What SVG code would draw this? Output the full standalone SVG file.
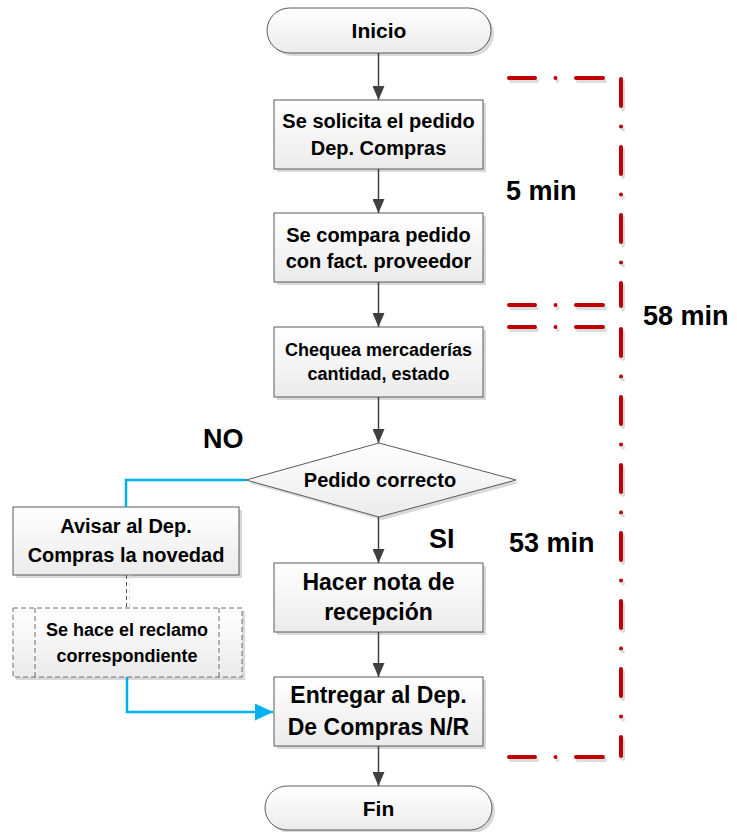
<svg xmlns="http://www.w3.org/2000/svg" width="737" height="832" viewBox="0 0 737 832">
<defs>
<linearGradient id="g" x1="0" y1="0" x2="0" y2="1">
<stop offset="0" stop-color="#ffffff"/>
<stop offset="1" stop-color="#ebebeb"/>
</linearGradient>
<marker id="ah" viewBox="0 0 14 12" refX="14" refY="6" markerWidth="14" markerHeight="12" markerUnits="userSpaceOnUse" orient="auto">
<path d="M0,0 L14,6 L0,12 Z" fill="#404040"/>
</marker>
<marker id="bh" viewBox="0 0 18 17" refX="18" refY="8.5" markerWidth="18" markerHeight="17" markerUnits="userSpaceOnUse" orient="auto">
<path d="M0,0 L18,8.5 L0,17 Z" fill="#00b0f0"/>
</marker>
</defs>
<style>
.sh{fill:#d9d9d9}
.bx{fill:url(#g);stroke:#5a5a5a;stroke-width:1}
.ds{fill:url(#g);stroke:#6e6e6e;stroke-width:1;stroke-dasharray:5 3}
.t{font-family:"Liberation Sans",Arial,sans-serif;font-weight:bold;fill:#000;text-anchor:middle}
.lb{font-family:"Liberation Sans",Arial,sans-serif;font-weight:bold;fill:#000;font-size:27px}
.ar{fill:none;stroke:#404040;stroke-width:1.5;marker-end:url(#ah)}
.bl{fill:none;stroke:#00b0f0;stroke-width:2.5}
.rd{fill:none;stroke:#c00000;stroke-width:4;stroke-linecap:round;stroke-dasharray:27 20.5 0 20.5}
.rs{fill:none;stroke:#dcdcdc;stroke-width:4;stroke-linecap:round;stroke-dasharray:27 20.5 0 20.5}
</style>

<g id="inicio">
<rect class="sh" x="270" y="11" width="224" height="45" rx="22.5"/>
<rect class="bx" x="267" y="8" width="224" height="45" rx="22.5"/>
<text class="t" x="379" y="38" font-size="21">Inicio</text>
</g>

<g id="solicita">
<rect class="sh" x="277" y="103" width="209" height="69"/>
<rect class="bx" x="274" y="100" width="209" height="69"/>
<text class="t" x="378.5" y="128" font-size="20">Se solicita el pedido</text>
<text class="t" x="378.5" y="155" font-size="20">Dep. Compras</text>
</g>

<g id="compara">
<rect class="sh" x="277" y="216" width="209" height="69"/>
<rect class="bx" x="274" y="213" width="209" height="69"/>
<text class="t" x="378.5" y="242" font-size="20">Se compara pedido</text>
<text class="t" x="378.5" y="268" font-size="20">con fact. proveedor</text>
</g>

<g id="chequea">
<rect class="sh" x="277" y="330" width="209" height="70"/>
<rect class="bx" x="274" y="327" width="209" height="70"/>
<text class="t" x="378.5" y="356" font-size="18">Chequea mercaderías</text>
<text class="t" x="378.5" y="380" font-size="18">cantidad, estado</text>
</g>

<g id="decision">
<polygon class="sh" points="249,483 382,446 519,483 382,520"/>
<polygon class="bx" points="246,480 379,443 516,480 379,517"/>
<text class="t" x="380" y="487" font-size="20">Pedido correcto</text>
</g>

<g id="avisar">
<rect class="sh" x="16" y="510" width="226" height="68"/>
<rect class="bx" x="13" y="507" width="226" height="68"/>
<text class="t" x="126" y="533" font-size="20">Avisar al Dep.</text>
<text class="t" x="126" y="562" font-size="20">Compras la novedad</text>
</g>

<g id="reclamo">
<rect class="sh" x="16" y="611" width="229" height="69"/>
<rect class="ds" x="13" y="608" width="229" height="69"/>
<line x1="35" y1="608" x2="35" y2="677" stroke="#6e6e6e" stroke-dasharray="5 3"/>
<line x1="219" y1="608" x2="219" y2="677" stroke="#6e6e6e" stroke-dasharray="5 3"/>
<text class="t" x="127" y="636" font-size="18">Se hace el reclamo</text>
<text class="t" x="127" y="662" font-size="18">correspondiente</text>
</g>

<g id="hacer">
<rect class="sh" x="277" y="566" width="209" height="69"/>
<rect class="bx" x="274" y="563" width="209" height="69"/>
<text class="t" x="378.5" y="590" font-size="23">Hacer nota de</text>
<text class="t" x="378.5" y="620" font-size="23">recepción</text>
</g>

<g id="entregar">
<rect class="sh" x="277" y="680" width="209" height="69"/>
<rect class="bx" x="274" y="677" width="209" height="69"/>
<text class="t" x="378.5" y="703" font-size="23">Entregar al Dep.</text>
<text class="t" x="378.5" y="735" font-size="23">De Compras N/R</text>
</g>

<g id="fin">
<rect class="sh" x="268" y="789" width="227" height="44" rx="22"/>
<rect class="bx" x="265" y="786" width="227" height="44" rx="22"/>
<text class="t" x="378.5" y="816" font-size="21">Fin</text>
</g>

<g id="connectors">
<path class="ar" d="M378.5,53 V100"/>
<path class="ar" d="M378.5,169 V213"/>
<path class="ar" d="M378.5,282 V327"/>
<path class="ar" d="M378.5,397 V443"/>
<path class="ar" d="M378.5,517 V563"/>
<path class="ar" d="M378.5,632 V677"/>
<path class="ar" d="M378.5,746 V786"/>
<path class="bl" d="M246,480 H126 V507"/>
<path d="M129.5,575 V608" stroke="#e0e0e0" stroke-width="1" stroke-dasharray="4 3"/>
<path d="M126.5,575 V608" stroke="#555" stroke-width="1" stroke-dasharray="4 3"/>
<path class="bl" d="M127,677 V712 H273" marker-end="url(#bh)"/>
</g>

<g id="time-brackets">
<g transform="translate(2,3)">
<path class="rs" d="M603,78 H509"/>
<path class="rs" d="M603,305 H509"/>
<path class="rs" d="M603,327 H509"/>
<path class="rs" d="M603,757 H509"/>
<path class="rs" d="M621,79 V306"/>
<path class="rs" d="M621,329 V756"/>
</g>
<path class="rd" d="M603,78 H509"/>
<path class="rd" d="M603,305 H509"/>
<path class="rd" d="M603,327 H509"/>
<path class="rd" d="M603,757 H509"/>
<path class="rd" d="M621,79 V306"/>
<path class="rd" d="M621,329 V756"/>
</g>

<g id="labels">
<text class="lb" x="203" y="448">NO</text>
<text class="lb" x="429" y="548">SI</text>
<text class="lb" x="506" y="200">5 min</text>
<text class="lb" x="643" y="325">58 min</text>
<text class="lb" x="509" y="552">53 min</text>
</g>
</svg>
